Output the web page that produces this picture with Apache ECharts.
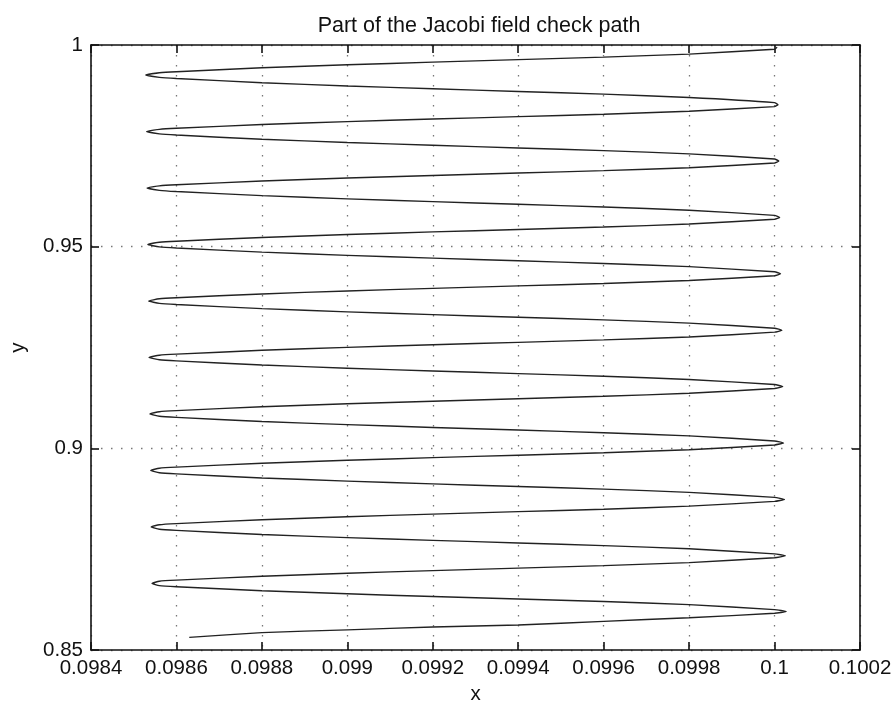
<!DOCTYPE html>
<html>
<head>
<meta charset="utf-8">
<script src="https://cdn.jsdelivr.net/npm/echarts@6/dist/echarts.min.js"></script>
<style>html,body{margin:0;padding:0;background:#fff}#c{width:896px;height:710px}</style>
</head>
<body>
<div id="c"></div>
<script>
const titleText = 'Part of the Jacobi field check path';
const xTicks = [0.0984, 0.0986, 0.0988, 0.099, 0.0992, 0.0994, 0.0996, 0.0998, 0.1, 0.1002];
const yTicks = [0.85, 0.9, 0.95, 1];

const crossX = [0.09856, 0.0986, 0.0988, 0.099, 0.0992, 0.0994, 0.0996, 0.0998, 0.1];

// starting piece (bottom)
const startX = [0.09863, 0.0988, 0.099, 0.0992, 0.0994, 0.0996, 0.0998, 0.1];
const startY = [0.85312, 0.8543, 0.8550, 0.8557, 0.8562, 0.8571, 0.8580, 0.8591];

// turning points, index 0 = top
const leftTipX = [0.098528, 0.098530, 0.098531, 0.098533, 0.098535, 0.098536, 0.098538, 0.098540, 0.098541, 0.098543];
const leftTipY = [0.99256, 0.97855, 0.96455, 0.95054, 0.93653, 0.92255, 0.90854, 0.89453, 0.88052, 0.86651];
const rightTipX = [0.100006, 0.100008, 0.100010, 0.100012, 0.100014, 0.100017, 0.100019, 0.100021, 0.100023, 0.100025, 0.100027];
const rightTipY = [0.99943, 0.98520, 0.97121, 0.95725, 0.94326, 0.92927, 0.91531, 0.90132, 0.88733, 0.87334, 0.85953];

// branch from left tip k up to right tip k (y at crossX)
const upY = [
  [0.99311, 0.99338, 0.99435, 0.99510, 0.99575, 0.99637, 0.99699, 0.99775, 0.99895],
  [0.97908, 0.97935, 0.98028, 0.98101, 0.98164, 0.98224, 0.98284, 0.98357, 0.98473],
  [0.96508, 0.96535, 0.96628, 0.96701, 0.96765, 0.96825, 0.96885, 0.96958, 0.97074],
  [0.95108, 0.95135, 0.95228, 0.95302, 0.95366, 0.95426, 0.95487, 0.95561, 0.95678],
  [0.93707, 0.93734, 0.93828, 0.93902, 0.93966, 0.94027, 0.94087, 0.94161, 0.94279],
  [0.92309, 0.92336, 0.92430, 0.92504, 0.92567, 0.92628, 0.92688, 0.92762, 0.92880],
  [0.90908, 0.90935, 0.91030, 0.91104, 0.91169, 0.91230, 0.91291, 0.91365, 0.91484],
  [0.89507, 0.89534, 0.89630, 0.89704, 0.89769, 0.89830, 0.89891, 0.89966, 0.90084],
  [0.88106, 0.88134, 0.88229, 0.88304, 0.88369, 0.88430, 0.88491, 0.88566, 0.88685],
  [0.86706, 0.86733, 0.86829, 0.86904, 0.86969, 0.87030, 0.87092, 0.87167, 0.87286]
];
// branch from left tip k down to right tip k+1 (y at crossX)
const downY = [
  [0.99197, 0.99168, 0.99065, 0.98984, 0.98914, 0.98848, 0.98781, 0.98700, 0.98572],
  [0.97796, 0.97767, 0.97664, 0.97583, 0.97514, 0.97448, 0.97382, 0.97301, 0.97172],
  [0.96397, 0.96367, 0.96265, 0.96185, 0.96116, 0.96050, 0.95984, 0.95904, 0.95776],
  [0.94996, 0.94967, 0.94865, 0.94785, 0.94715, 0.94650, 0.94584, 0.94504, 0.94377],
  [0.93595, 0.93566, 0.93464, 0.93384, 0.93315, 0.93250, 0.93185, 0.93105, 0.92978],
  [0.92197, 0.92168, 0.92067, 0.91987, 0.91918, 0.91853, 0.91788, 0.91708, 0.91582],
  [0.90796, 0.90767, 0.90666, 0.90587, 0.90518, 0.90453, 0.90388, 0.90309, 0.90183],
  [0.89395, 0.89367, 0.89266, 0.89187, 0.89118, 0.89053, 0.88989, 0.88909, 0.88783],
  [0.87995, 0.87966, 0.87865, 0.87786, 0.87718, 0.87654, 0.87589, 0.87510, 0.87384],
  [0.86595, 0.86567, 0.86470, 0.86393, 0.86326, 0.86264, 0.86201, 0.86124, 0.86002]
];

// assemble the path in drawing order (bottom to top)
const path = [];
startX.forEach((x, i) => path.push([x, startY[i]]));
for (let k = leftTipY.length - 1; k >= 0; k--) {
  path.push([rightTipX[k + 1], rightTipY[k + 1]]);
  for (let i = crossX.length - 1; i >= 0; i--) path.push([crossX[i], downY[k][i]]);
  path.push([leftTipX[k], leftTipY[k]]);
  for (let i = 0; i < crossX.length; i++) path.push([crossX[i], upY[k][i]]);
}
path.push([rightTipX[0], rightTipY[0]]);

const FONT = '"Liberation Sans", Arial, Helvetica, sans-serif';
const INK = '#111';
const dotted = { color: '#777', width: 1.3, type: [1.5, 8.5] };

function fmt(d) { return v => String(parseFloat(Number(v).toFixed(d))); }

const chart = echarts.init(document.getElementById('c'), null, { renderer: 'canvas' });
chart.setOption({
  animation: false,
  backgroundColor: '#fff',
  title: {
    text: titleText, left: 474, top: 10, textAlign: 'center',
    textStyle: { fontFamily: FONT, fontSize: 21.5, fontWeight: 'normal', color: INK }
  },
  grid: { left: 87, right: 36, top: 45, bottom: 60, containLabel: false },
  xAxis: [{
    type: 'value', position: 'bottom',
    min: xTicks[0], max: xTicks[xTicks.length - 1], interval: 0.0002,
    name: 'x', nameLocation: 'middle', nameGap: 32,
    nameTextStyle: { fontFamily: FONT, fontSize: 20.5, color: INK },
    axisLine: { show: true, onZero: false, lineStyle: { color: INK, width: 1.6 } },
    axisTick: { show: true, inside: true, length: 8, lineStyle: { color: INK, width: 1.6 } },
    axisLabel: { fontFamily: FONT, fontSize: 20.5, color: INK, margin: 8, formatter: fmt(4) },
    splitLine: { show: true, lineStyle: dotted }
  }, {
    type: 'value', position: 'top',
    min: xTicks[0], max: xTicks[xTicks.length - 1], interval: 0.0002,
    axisLine: { show: true, onZero: false, lineStyle: { color: INK, width: 1.6 } },
    axisTick: { show: true, inside: true, length: 8, lineStyle: { color: INK, width: 1.6 } },
    axisLabel: { show: false }, splitLine: { show: false }
  }],
  yAxis: [{
    type: 'value', position: 'left',
    min: yTicks[0], max: yTicks[yTicks.length - 1], interval: 0.05,
    name: 'y', nameLocation: 'middle', nameGap: 62, nameRotate: 90,
    nameTextStyle: { fontFamily: FONT, fontSize: 20.5, color: INK },
    axisLine: { show: true, onZero: false, lineStyle: { color: INK, width: 1.6 } },
    axisTick: { show: true, inside: true, length: 8, lineStyle: { color: INK, width: 1.6 } },
    axisLabel: { fontFamily: FONT, fontSize: 20.5, color: INK, margin: 8, formatter: fmt(2) },
    splitLine: { show: true, lineStyle: dotted }
  }, {
    type: 'value', position: 'right',
    min: yTicks[0], max: yTicks[yTicks.length - 1], interval: 0.05,
    axisLine: { show: true, onZero: false, lineStyle: { color: INK, width: 1.6 } },
    axisTick: { show: true, inside: true, length: 8, lineStyle: { color: INK, width: 1.6 } },
    axisLabel: { show: false }, splitLine: { show: false }
  }],
  series: [{
    type: 'line', xAxisIndex: 0, yAxisIndex: 0,
    data: path, showSymbol: false, smooth: 0.15,
    lineStyle: { color: '#222', width: 1.4 },
    clip: true
  }]
});
</script>
</body>
</html>
